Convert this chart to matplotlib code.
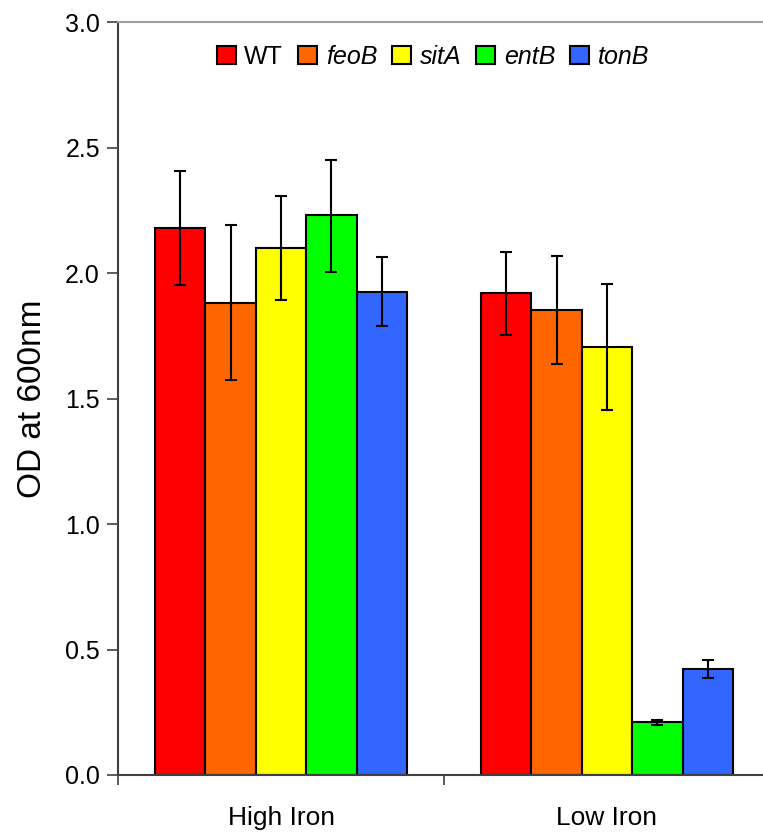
import numpy as np
import matplotlib
matplotlib.use("Agg")
import matplotlib.pyplot as plt

plt.rcParams["font.family"] = ["Liberation Sans", "DejaVu Sans"]

conditions = ["High Iron", "Low Iron"]
strains = ["WT", "feoB", "sitA", "entB", "tonB"]
colors = ["#ff0000", "#ff6600", "#ffff00", "#00ff00", "#3366ff"]

# OD600 means per strain: [High Iron, Low Iron]
od_mean = {
    "WT":   [2.178, 1.920],
    "feoB": [1.880, 1.851],
    "sitA": [2.100, 1.705],
    "entB": [2.230, 0.210],
    "tonB": [1.924, 0.422],
}
# error bar half-widths (upper, lower)
err_up = {
    "WT":   [0.227, 0.164],
    "feoB": [0.310, 0.217],
    "sitA": [0.208, 0.252],
    "entB": [0.221, 0.010],
    "tonB": [0.140, 0.036],
}
err_lo = {
    "WT":   [0.227, 0.166],
    "feoB": [0.306, 0.214],
    "sitA": [0.209, 0.251],
    "entB": [0.226, 0.011],
    "tonB": [0.135, 0.036],
}

fig = plt.figure(figsize=(7.63, 8.36), dpi=100)
ax = fig.add_axes([118 / 763, 61 / 836, 652 / 763, 753 / 836])

x = np.arange(len(conditions)) + 0.5
w = 0.1546
for i, s in enumerate(strains):
    pos = x + (i - 2) * w
    ax.bar(pos, od_mean[s], width=w, color=colors[i], edgecolor="black",
           linewidth=1.5, label=s, zorder=2)
    ax.errorbar(pos, od_mean[s], yerr=[err_lo[s], err_up[s]], fmt="none",
                ecolor="black", elinewidth=1.5, capsize=4, capthick=1.5, zorder=3)

ax.set_xlim(0, 2)
ax.set_ylim(0, 3.0)
ax.set_yticks(np.arange(0, 3.01, 0.5))
ax.set_yticklabels([f"{v:.1f}" for v in np.arange(0, 3.01, 0.5)], fontsize=18)
ax.set_xticks([0, 1, 2])
ax.set_xticklabels([])
ax.set_xticks(x, minor=True)
ax.set_xticklabels(conditions, minor=True, fontsize=19)
ax.tick_params(axis="x", which="minor", length=0, pad=22)
ax.tick_params(axis="x", which="major", length=7, width=1.2, direction="out",
               color="#404040")
ax.tick_params(axis="y", length=8, width=1.2, direction="out", color="#404040",
               pad=5)

ax.spines["right"].set_visible(False)
ax.spines["top"].set_color("#a0a0a0")
ax.spines["top"].set_linewidth(1.5)
ax.spines["left"].set_color("#404040")
ax.spines["left"].set_linewidth(1.5)
ax.spines["bottom"].set_color("#404040")
ax.spines["bottom"].set_linewidth(1.5)

ax.set_ylabel("OD at 600nm", fontsize=24, labelpad=12)

leg = ax.legend(loc="upper center", bbox_to_anchor=(0.483, 1.0), ncol=5,
                frameon=False, fontsize=18, handlelength=0.75, handleheight=0.75,
                handletextpad=0.35, columnspacing=0.6)
for t in leg.get_texts():
    if t.get_text() != "WT":
        t.set_fontstyle("italic")
for p in leg.get_patches():
    p.set_linewidth(1.5)

fig.savefig("out.png", dpi=100)
